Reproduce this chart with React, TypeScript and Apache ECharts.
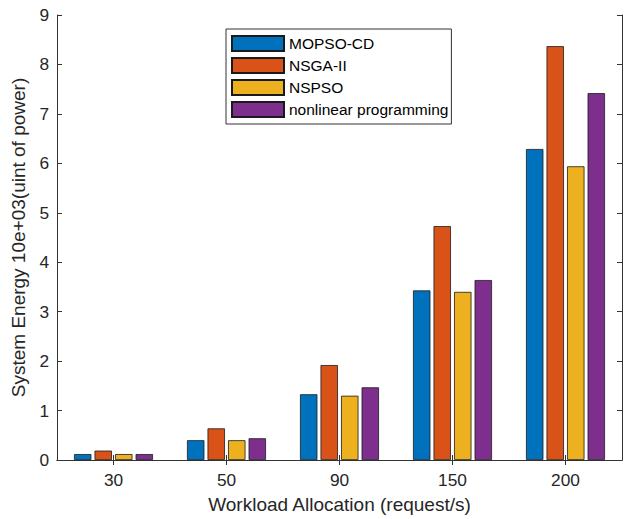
import React, { useEffect, useRef } from "react";
import * as echarts from "echarts";

const categories = ["30", "50", "90", "150", "200"];
const seriesNames = ["MOPSO-CD", "NSGA-II", "NSPSO", "nonlinear programming"];
const mopsoCD = [0.12, 0.4, 1.33, 3.43, 6.29];
const nsgaII = [0.19, 0.64, 1.92, 4.73, 8.37];
const nspso = [0.12, 0.4, 1.3, 3.4, 5.94];
const nonlinear = [0.12, 0.44, 1.47, 3.64, 7.42];
const colors = ["#0072BD", "#D95319", "#EDB120", "#7E2F8E"];

const FONT = "'Liberation Sans', Arial, sans-serif";
const AXIS_COLOR = "#333333";
const TEXT_COLOR = "#262626";

export default function App() {
  const ref = useRef<HTMLDivElement>(null);
  useEffect(() => {
    if (!ref.current) return;
    const chart = echarts.init(ref.current, undefined, { renderer: "svg" });
    const values = [mopsoCD, nsgaII, nspso, nonlinear];
    const tickCommon = { show: true, inside: true, length: 5, lineStyle: { color: AXIS_COLOR, width: 1 } };
    chart.setOption({
      animation: false,
      textStyle: { fontFamily: FONT },
      color: colors,
      grid: { left: 57, right: 5, top: 15, bottom: 57, containLabel: false },
      legend: {
        orient: "vertical",
        left: 226,
        top: 29,
        padding: [6, 3, 6, 5],
        itemWidth: 52,
        itemHeight: 15,
        itemGap: 5,
        icon: "rect",
        borderColor: AXIS_COLOR,
        borderWidth: 1,
        backgroundColor: "#ffffff",
        textStyle: { fontFamily: FONT, fontSize: 15.5, color: "#000000", lineHeight: 15 },
        data: seriesNames,
      },
      xAxis: [
        {
          type: "category",
          data: categories,
          position: "bottom",
          axisLine: { show: true, lineStyle: { color: AXIS_COLOR, width: 1 } },
          axisTick: { ...tickCommon, alignWithLabel: true },
          axisLabel: { fontFamily: FONT, fontSize: 17.3, color: TEXT_COLOR, margin: 11 },
          name: "Workload Allocation (request/s)",
          nameLocation: "middle",
          nameGap: 35,
          nameTextStyle: { fontFamily: FONT, fontSize: 19, color: TEXT_COLOR },
        },
        {
          type: "category",
          data: categories,
          position: "top",
          axisLine: { show: true, lineStyle: { color: AXIS_COLOR, width: 1 } },
          axisTick: { ...tickCommon, alignWithLabel: true },
          axisLabel: { show: false },
        },
      ],
      yAxis: [
        {
          type: "value",
          min: 0,
          max: 9,
          interval: 1,
          position: "left",
          axisLine: { show: true, lineStyle: { color: AXIS_COLOR, width: 1 } },
          axisTick: tickCommon,
          splitLine: { show: false },
          axisLabel: { fontFamily: FONT, fontSize: 17.3, color: TEXT_COLOR, margin: 8 },
          name: "System Energy 10e+03(uint of power)",
          nameLocation: "middle",
          nameGap: 22,
          nameTextStyle: { fontFamily: FONT, fontSize: 19, color: TEXT_COLOR },
        },
        {
          type: "value",
          min: 0,
          max: 9,
          interval: 1,
          position: "right",
          axisLine: { show: true, lineStyle: { color: AXIS_COLOR, width: 1 } },
          axisTick: tickCommon,
          splitLine: { show: false },
          axisLabel: { show: false },
        },
      ],
      series: seriesNames.map((name, i) => ({
        name,
        type: "bar",
        xAxisIndex: 0,
        yAxisIndex: 0,
        data: values[i],
        barWidth: 17.4,
        barGap: "18%",
        itemStyle: { color: colors[i], borderColor: "#1a1a1a", borderWidth: 0.8 },
      })),
    });
    return () => chart.dispose();
  }, []);
  return (
    <div
      ref={ref}
      style={{ position: "absolute", left: 0, top: 0, width: 627, height: 519, background: "#ffffff" }}
    />
  );
}
